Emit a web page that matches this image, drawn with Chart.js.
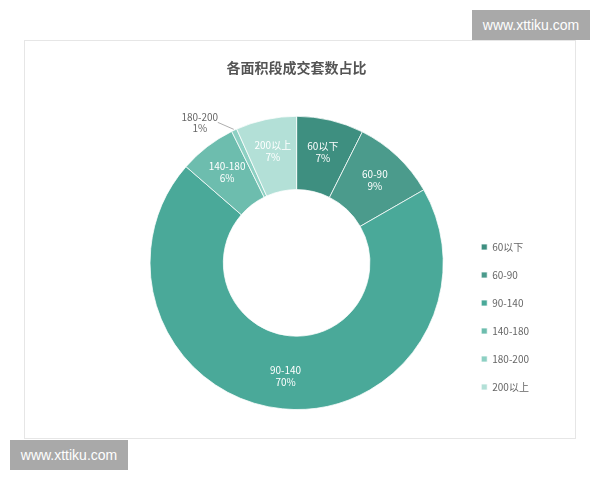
<!DOCTYPE html>
<html>
<head>
<meta charset="utf-8">
<script src="https://cdn.jsdelivr.net/npm/chart.js@4.4.0/dist/chart.umd.min.js"></script>
<style>
  body{margin:0;background:#fff;width:600px;height:480px;position:relative;overflow:hidden}
  .frame{position:absolute;left:24px;top:40px;width:550px;height:397px;border:1px solid #e6e6e6}
  .mark{position:absolute;width:118px;height:30px;line-height:30px;background:#a9a9a9;color:#fff;
    font-family:"Liberation Sans",Arial,sans-serif;font-size:14px;text-align:center}
</style>
</head>
<body>
<div class="frame"><canvas id="myChart" width="550" height="397"></canvas></div>
<div class="mark" style="left:472px;top:10px">www.xttiku.com</div>
<div class="mark" style="left:10px;top:440px">www.xttiku.com</div>
<script>
const chartTitle='各面积段成交套数占比'
const categories=['60以下','60-90','90-140','140-180','180-200','200以上']
// share of each area band (percent)
const shares=[7.4,9.3,69.7,6.3,0.6,6.7]
const sliceColors=['#3e8f80','#4b9b8c','#4aa999','#6dbdae','#8dd0c3','#b3e0d7']

const total=shares.reduce((a,b)=>a+b,0)

const sliceLabels={
    id:'sliceLabels',
    afterDatasetsDraw(chart){
        const ctx=chart.ctx
        const arcs=chart.getDatasetMeta(0).data
        ctx.save()
        ctx.font='10px "Noto Sans CJK SC", sans-serif'
        ctx.textAlign='center'
        ctx.textBaseline='middle'
        arcs.forEach((arc,i)=>{
            const p=arc.getProps(['x','y','startAngle','endAngle','innerRadius','outerRadius'],true)
            const mid=(p.startAngle+p.endAngle)/2
            const pct=Math.round(shares[i]/total*100)+'%'
            if(shares[i]/total<0.02){
                // too thin, put the label outside with a guide line
                const sx=p.x+Math.cos(mid)*(p.outerRadius+1)
                const sy=p.y+Math.sin(mid)*(p.outerRadius+1)
                const ex=sx-16
                const ey=sy-7
                ctx.strokeStyle='#999'
                ctx.lineWidth=0.8
                ctx.beginPath()
                ctx.moveTo(sx,sy)
                ctx.lineTo(ex,ey)
                ctx.stroke()
                ctx.fillStyle='#666'
                ctx.fillText(categories[i],ex-18,ey-5)
                ctx.fillText(pct,ex-18,ey+6)
                return
            }
            const r=(p.innerRadius+p.outerRadius)/2+4
            const x=p.x+Math.cos(mid)*r
            const y=p.y+Math.sin(mid)*r
            ctx.fillStyle='#fff'
            ctx.fillText(categories[i],x,y-6)
            ctx.fillText(pct,x,y+6)
        })
        ctx.restore()
    }
}

function loadChart(){
    Chart.defaults.font.family='"Noto Sans CJK SC", "Noto Sans", sans-serif'
    Chart.defaults.color='#666'
    const ctx=document.getElementById('myChart')
    new Chart(ctx,{
        type:'doughnut',
        data:{
            labels:categories,
            datasets:[{
                data:shares,
                backgroundColor:sliceColors,
                borderColor:'rgba(255,255,255,0.75)',
                borderWidth:1
            }]
        },
        options:{
            responsive:false,
            animation:false,
            cutout:'50%',
            layout:{padding:{left:105,right:36,top:0,bottom:28}},
            plugins:{
                title:{
                    display:true,
                    text:chartTitle,
                    fullSize:false,
                    color:'#555',
                    font:{size:14,weight:'bold'},
                    padding:{top:18,bottom:40}
                },
                legend:{
                    position:'right',
                    align:'end',
                    labels:{
                        boxWidth:6,
                        boxHeight:6,
                        padding:18,
                        color:'#666',
                        font:{size:10}
                    }
                },
                tooltip:{enabled:false}
            }
        },
        plugins:[sliceLabels]
    })
}

loadChart()
</script>
</body>
</html>
